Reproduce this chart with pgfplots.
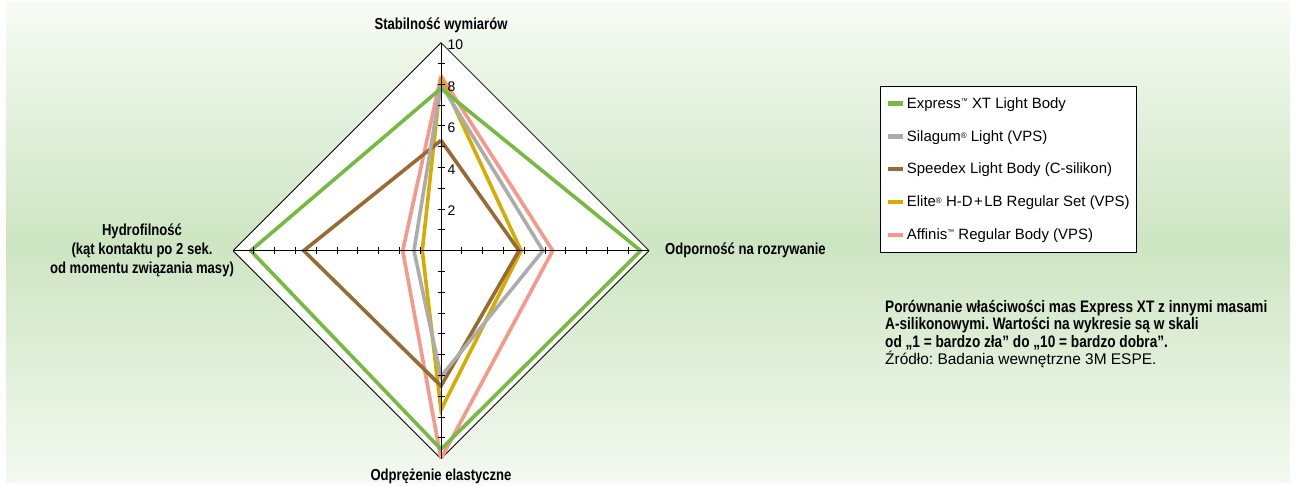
\documentclass[border=0pt]{standalone}
\usepackage{fontspec}
\setmainfont{Liberation Sans}
\newfontfamily\condb[FakeStretch=0.82]{Liberation Sans Bold}
\usepackage{pgfplots}
\pgfplotsset{compat=1.18}
\frenchspacing

\definecolor{bgtop}{HTML}{F7FBF5}
\definecolor{bgmid}{HTML}{CDE5C2}
\definecolor{bgbot}{HTML}{F4F9F1}
\definecolor{cgreen}{RGB}{118,186,66}
\definecolor{cgray}{RGB}{172,172,172}
\definecolor{cbrown}{RGB}{152,106,52}
\definecolor{cyellow}{RGB}{214,172,0}
\definecolor{cpink}{RGB}{246,152,138}

\newcommand\tm{\raisebox{4.5bp}{\fontsize{7}{7}\selectfont ™}}
\newcommand\reg{\raisebox{3bp}{\fontsize{8}{8}\selectfont ®}}
\newcommand\bfl{\condb\fontsize{16}{16}\selectfont}
\newcommand\bft{\condb\fontsize{16.7}{16.7}\selectfont}

\begin{document}
\begin{tikzpicture}[x=1bp,y=1bp]
\useasboundingbox (0,0) rectangle (1296,486);
\shade[top color=bgtop, bottom color=bgbot, middle color=bgmid] (6,3) rectangle (1290,483);

\begin{axis}[
    at={(441bp,235.3bp)}, anchor=origin,
    scale only axis, width=416bp, height=416bp,
    xmin=-10, xmax=10, ymin=-10, ymax=10,
    axis lines=middle, axis on top,
    axis line style={-, black, line width=0.8bp},
    xtick={-9,...,-1,1,2,...,9}, ytick={-9,...,-1,1,2,...,9},
    xticklabels={}, yticklabels={},
    tick align=center, major tick length=7bp,
    tick style={black, line width=0.9bp},
    extra y ticks={2,4,6,8,10}, extra y tick labels={2,4,6,8,10},
    extra y tick style={major tick length=0pt,
        yticklabel style={anchor=west, xshift=3bp, yshift=-2bp}},
    tick label style={font=\fontsize{14}{14}\selectfont},
    /pgf/number format/assume math mode=true,
    reverse legend, legend cell align=left,
    legend style={at={(1.5553,0.8959)}, anchor=north west,
        draw=black, line width=0.8bp, fill=white,
        font=\fontsize{15}{15}\selectfont,
        row sep=16.5bp, inner xsep=5bp, inner ysep=9bp},
    legend image code/.code={\draw[#1, line width=4.5bp] (0bp,0bp) -- (15bp,0bp);},
    every axis plot/.append style={line width=3.6bp, line join=miter},
]
\addplot[forget plot, black, line width=0.8bp, fill=white]
    coordinates {(0,10) (10,0) (0,-10) (-10,0) (0,10)};

% Stabilnosc (top), Odpornosc (right), Odprezenie (bottom), Hydrofilnosc (left)
\addplot[cpink] coordinates {(0,8.4) (5.37,0) (0,-10) (-1.84,0) (0,8.4)};
\addlegendentry{Affinis\tm{} Regular Body (VPS)}
\addplot[cyellow] coordinates {(0,8.3) (3.85,0) (0,-7.65) (-0.9,0) (0,8.3)};
\addlegendentry{Elite\reg{} H-D\kern1.5bp+\kern1.5bpLB Regular Set (VPS)}
\addplot[cbrown] coordinates {(0,5.3) (3.75,0) (0,-6.5) (-6.6,0) (0,5.3)};
\addlegendentry{Speedex Light Body (C-silikon)}
\addplot[cgray] coordinates {(0,8.0) (4.9,0) (0,-6.05) (-1.3,0) (0,8.0)};
\addlegendentry{Silagum\reg{} Light (VPS)}
\addplot[cgreen] coordinates {(0,7.8) (9.6,0) (0,-9.55) (-9.15,0) (0,7.8)};
\addlegendentry{Express\tm{} XT Light Body}
\end{axis}

\node[font=\bfl] at (441,461) {Stabilność wymiarów};
\node[font=\bfl, anchor=west, inner sep=0pt] at (665,235.3) {Odporność na rozrywanie};
\node[font=\bfl] at (441,10) {Odprężenie elastyczne};
\node[font=\condb\fontsize{16}{19}\selectfont, align=center] at (142,236)
    {Hydrofilność\\(kąt kontaktu po 2 sek.\\od momentu związania masy)};

\node[font=\bft, anchor=base west, inner sep=0pt] at (885,173.3)
    {Porównanie właściwości mas Express XT z innymi masami};
\node[font=\bft, anchor=base west, inner sep=0pt] at (885,156.1)
    {A-silikonowymi. Wartości na wykresie są w skali};
\node[font=\bft, anchor=base west, inner sep=0pt] at (885,138.9)
    {od „1 = bardzo zła” do „10 = bardzo dobra”.};
\node[font=\fontsize{15.5}{15.5}\selectfont, anchor=base west, inner sep=0pt] at (885,121.7)
    {Źródło: Badania wewnętrzne 3M ESPE.};
\end{tikzpicture}
\end{document}
